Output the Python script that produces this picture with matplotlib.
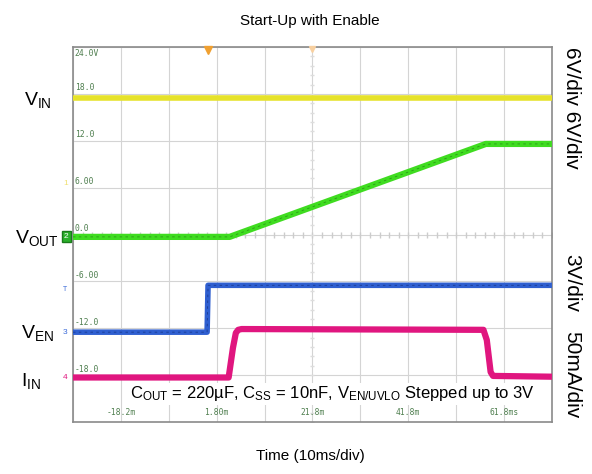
import matplotlib
matplotlib.use("Agg")
import matplotlib.pyplot as plt
import numpy as np

plt.rcParams['font.family'] = ['Liberation Sans', 'DejaVu Sans']
plt.rcParams['mathtext.default'] = 'regular'

# -----------------------------
# Scope data (screen units, 6 per division; time in ms)
# -----------------------------
vin_t = [-28.2, 71.8]
vin_v = [17.5, 17.5]

vout_t = [-28.2, 4.5, 58.0, 71.8]
vout_v = [-0.3, -0.3, 11.6, 11.6]

ven_t = [-28.2, -0.2, 0.0, 71.8]
ven_v = [-12.5, -12.5, -6.5, -6.5]

iin_t = [-28.2, 4.3, 5.2, 5.8, 6.3, 7.0, 57.5, 58.2, 59.0, 59.5, 71.8]
iin_v = [-18.3, -18.3, -14.5, -12.6, -12.2, -12.1, -12.2, -13.5, -17.6, -18.1, -18.2]

volt_labels = ["24.0V", "18.0", "12.0", "6.00", "0.0", "-6.00", "-12.0", "-18.0"]
volt_levels = [24, 18, 12, 6, 0, -6, -12, -18]
time_labels = ["-18.2m", "1.80m", "21.8m", "41.8m", "61.8ms"]
time_levels = [-18.2, 1.8, 21.8, 41.8, 61.8]

# -----------------------------
# Figure
# -----------------------------
fig = plt.figure(figsize=(5.92, 4.74), dpi=100)
ax = fig.add_axes([0.1233, 0.1097, 0.809, 0.791])
ax.set_xlim(-28.2, 71.8)
ax.set_ylim(-24, 24)

# graticule
gx = np.linspace(-28.2, 71.8, 11)
gy = np.linspace(-24, 24, 9)
for x in gx:
    ax.axvline(x, color="#d4d4d4", lw=0.8, zorder=0)
for y in gy:
    ax.axhline(y, color="#d4d4d4", lw=0.8, zorder=0)
mx = np.linspace(-28.2, 71.8, 51)
my = np.linspace(-24, 24, 41)
ax.plot(mx, np.zeros(len(mx)), "|", color="#cccccc", ms=4, zorder=0)
ax.plot(np.full(len(my), 21.8), my, "_", color="#dddddd", ms=3, zorder=0)

ax.set_xticks([])
ax.set_yticks([])
for s in ax.spines.values():
    s.set_color("#8a8a8a")
    s.set_linewidth(1.2)

# traces
ax.plot(vin_t, vin_v, color="#e6e22a", lw=4, solid_capstyle="butt", zorder=3)
ax.plot(vout_t, vout_v, color="#3fdc20", lw=4.5, solid_capstyle="butt", zorder=3)
ax.plot(vout_t, vout_v, color="#2a9a18", lw=0.6, ls=(0, (3, 4)), zorder=4)
ax.plot(ven_t, ven_v, color="#2f5fd0", lw=4, solid_capstyle="butt", zorder=3)
ax.plot(ven_t, ven_v, color="#1a3a90", lw=0.6, ls=(0, (3, 4)), zorder=4)
ax.plot(iin_t, iin_v, color="#e0167f", lw=4.5, solid_capstyle="butt", zorder=3)

# scope labels inside the screen
for lab, lev in zip(volt_labels, volt_levels):
    ax.text(-27.8, lev - 0.3 if lev == 24 else lev + 0.2, lab, fontsize=5.8,
            family="DejaVu Sans Mono", color="#4f7f4f",
            va="top" if lev == 24 else "bottom", ha="left", zorder=5)
for lab, lev in zip(time_labels, time_levels):
    ax.text(lev, -23.4, lab, fontsize=5.8, family="DejaVu Sans Mono",
            color="#4f7f4f", ha="center", va="bottom", zorder=8)

# trigger markers at the top
ax.plot([0.0], [23.6], marker="v", color="#f0a030", ms=6, clip_on=False, zorder=6)
ax.plot([21.8], [23.7], marker="v", color="#f8d0a0", ms=4, clip_on=False, zorder=6)

# channel markers on the left edge
ax.text(-29.6, -0.3, "2", fontsize=6, color="white", ha="center", va="center",
        bbox=dict(boxstyle="square,pad=0.25", fc="#2ab02a", ec="#1a7a1a"),
        clip_on=False)
ax.text(-29.8, -12.5, "3", fontsize=6, color="#3a6ad8", ha="center", va="center", clip_on=False)
ax.text(-29.8, -18.3, "4", fontsize=6, color="#e0167f", ha="center", va="center", clip_on=False)
ax.text(-29.8, 6.5, "1", fontsize=6, color="#f0e070", ha="center", va="center", clip_on=False)
ax.text(-29.8, -7.0, "T", fontsize=5, color="#3a6ad8", ha="center", va="center", clip_on=False)

# note
ax.text(26.0, -20.4,
        r"C$_{OUT}$ = 220µF, C$_{SS}$ = 10nF, V$_{EN/UVLO}$ Stepped up to 3V",
        fontsize=12, ha="center", va="center", zorder=7,
        bbox=dict(boxstyle="square,pad=0.1", fc="white", ec="none"))

# channel names
fig.text(0.064, 0.788, r"V$_{IN}$", fontsize=14, ha="center", va="center")
fig.text(0.063, 0.497, r"V$_{OUT}$", fontsize=14, ha="center", va="center")
fig.text(0.064, 0.298, r"V$_{EN}$", fontsize=14, ha="center", va="center")
fig.text(0.052, 0.197, r"I$_{IN}$", fontsize=14, ha="center", va="center")

# scales on the right
fig.text(0.966, 0.772, "6V/div 6V/div", fontsize=15, rotation=-90, ha="center", va="center")
fig.text(0.966, 0.403, "3V/div", fontsize=15, rotation=-90, ha="center", va="center")
fig.text(0.966, 0.209, "50mA/div", fontsize=15, rotation=-90, ha="center", va="center")

fig.text(0.524, 0.955, "Start-Up with Enable", fontsize=11, ha="center", va="center")
fig.text(0.524, 0.037, "Time (10ms/div)", fontsize=11, ha="center", va="center")

fig.savefig("out.png", dpi=100)
